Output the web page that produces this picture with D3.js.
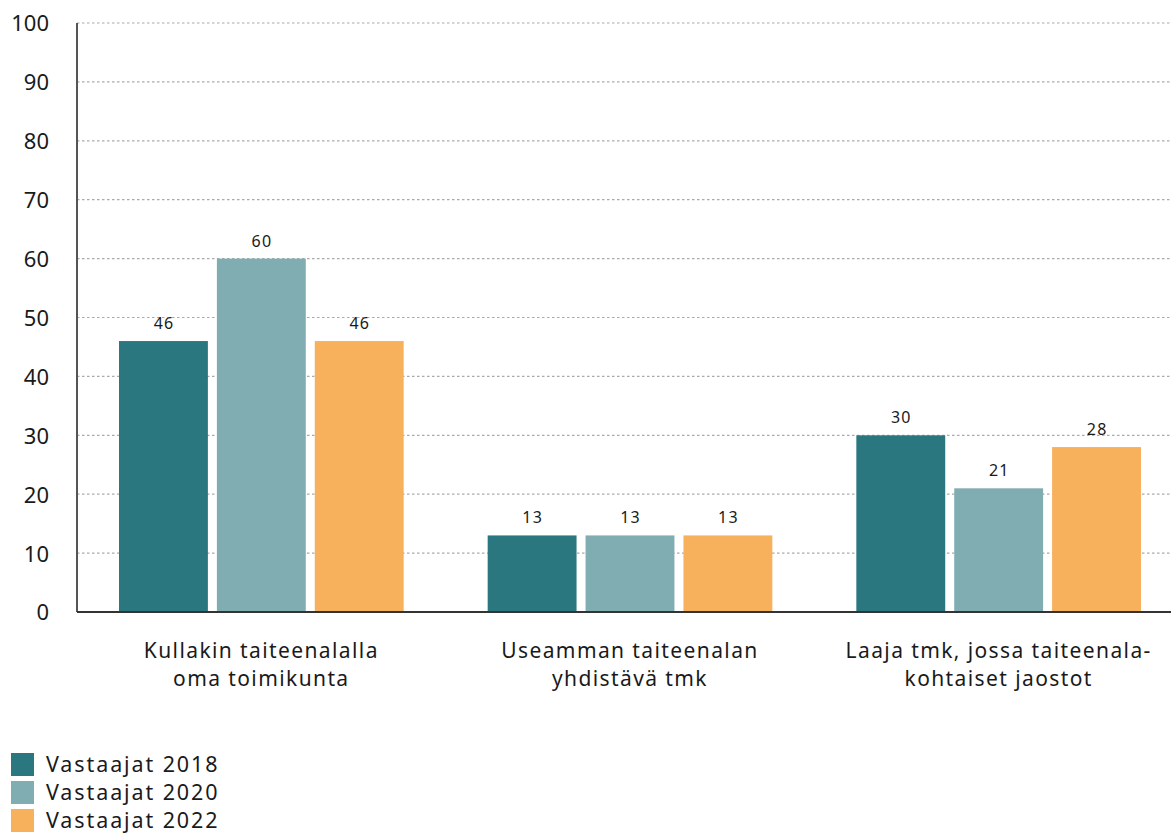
<!DOCTYPE html>
<html><head><meta charset="utf-8">
<script src="https://cdn.jsdelivr.net/npm/d3@7"></script>
<style>body{margin:0;background:#fff;font-family:"Noto Sans",sans-serif;}svg{display:block;}</style>
</head><body>
<svg id="c" width="1171" height="834"></svg>
<script>
const categories = [["Kullakin taiteenalalla","oma toimikunta"],["Useamman taiteenalan","yhdistävä tmk"],["Laaja tmk, jossa taiteenala-","kohtaiset jaostot"]];
const seriesNames = ["Vastaajat 2018","Vastaajat 2020","Vastaajat 2022"];
const values2018 = [46,13,30];
const values2020 = [60,13,21];
const values2022 = [46,13,28];
const colors = ["#2a7780","#7fadb2","#f7b05b"];
const yTicks = [0,10,20,30,40,50,60,70,80,90,100];

(function(){
const series = [values2018, values2020, values2022];
const svg = d3.select("#c");
const pLeft = 77, pRight = 1183, pTop = 23, pBottom = 612;
const x0 = d3.scaleBand().domain(d3.range(categories.length)).range([pLeft,pRight]).padding(0);
const x1 = d3.scaleBand().domain(d3.range(series.length)).range([42, x0.bandwidth()-42]).paddingInner(0.092);
const y = d3.scaleLinear().domain([0,100]).range([pBottom,pTop]);

// grid
svg.append("g").selectAll("line").data(yTicks.filter(d=>d>0)).join("line")
  .attr("x1",pLeft).attr("x2",1171).attr("y1",d=>y(d)).attr("y2",d=>y(d))
  .attr("stroke","#aaa").attr("stroke-width",1.2).attr("stroke-dasharray","2.5,2.5");

// y axis labels
const yAxis = d3.axisLeft(y).tickValues(yTicks).tickSize(0).tickPadding(28);
const ga = svg.append("g").attr("transform",`translate(${pLeft},0)`).call(yAxis);
ga.select(".domain").remove();
ga.selectAll("text").attr("font-size",22).attr("fill","#1a1a1a").attr("font-family","Noto Sans").attr("dy","0.36em");

// bars
const groups = svg.append("g").selectAll("g").data(categories).join("g")
  .attr("transform",(d,i)=>`translate(${x0(i)},0)`);
groups.each(function(c,ci){
  const g = d3.select(this);
  series.forEach((s,si)=>{
    g.append("rect").attr("x",x1(si)).attr("width",x1.bandwidth())
      .attr("y",y(s[ci])).attr("height",pBottom-y(s[ci])).attr("fill",colors[si]);
    g.append("text").attr("x",x1(si)+x1.bandwidth()/2+0.6).attr("y",y(s[ci])-12)
      .attr("text-anchor","middle").attr("font-size",16).attr("letter-spacing",1.2).attr("fill","#1a1a1a").text(s[ci]);
  });
  const t = g.append("text").attr("text-anchor","middle").attr("font-size",21).attr("letter-spacing",1.4).attr("fill","#1a1a1a");
  c.forEach((line,li)=>t.append("tspan").attr("x",x0.bandwidth()/2).attr("y",658+li*28).text(line));
});

// axes lines
svg.append("line").attr("x1",pLeft).attr("x2",pLeft).attr("y1",pTop).attr("y2",pBottom).attr("stroke","#555").attr("stroke-width",2);
svg.append("line").attr("x1",pLeft).attr("x2",1171).attr("y1",pBottom).attr("y2",pBottom).attr("stroke","#333").attr("stroke-width",2);

// legend
const lg = svg.append("g").selectAll("g").data(seriesNames).join("g")
  .attr("transform",(d,i)=>`translate(11,${753+i*28})`);
lg.append("rect").attr("width",23).attr("height",23).attr("fill",(d,i)=>colors[i]);
lg.append("text").attr("x",35).attr("y",19).attr("font-size",21.5).attr("letter-spacing",1.9).attr("fill","#1a1a1a").text(d=>d);
})();
</script>
</body></html>
